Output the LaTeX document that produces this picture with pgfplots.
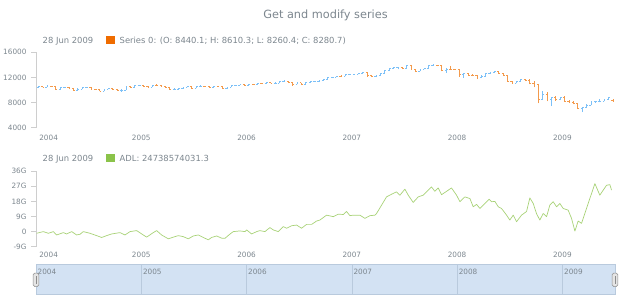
\documentclass[border=0pt]{standalone}
\usepackage{pgfplots}
\pgfplotsset{compat=1.18}
\usepackage{pgfplotstable}
\usepackage{fontspec}
\setmainfont{DejaVu Sans}
\definecolor{txt}{HTML}{7C868E}
\definecolor{axg}{HTML}{CECECE}
\definecolor{upc}{HTML}{64B5F6}
\definecolor{dnc}{HTML}{EF6C00}
\definecolor{dnl}{HTML}{F39A4C}
\definecolor{upl}{HTML}{7CC0F7}
\definecolor{adl}{HTML}{8BC34A}
\definecolor{scr}{HTML}{D3E2F3}
\definecolor{scrl}{HTML}{B9CADD}

\pgfplotstableread{
k o h l c
0 10450 10700 10380 10600
1 10600 10680 10420 10490
2 10490 10720 10440 10630
3 10630 10700 10500 10580
4 10580 10640 10020 10100
5 10100 10420 10010 10360
6 10360 10530 10300 10450
7 10450 10500 10150 10230
8 10230 10280 9900 9970
9 9970 10260 9920 10190
10 10190 10470 10140 10410
11 10410 10520 10350 10440
12 10440 10480 10080 10140
13 10140 10220 10040 10100
14 10100 10150 9780 9830
15 9830 10230 9800 10170
16 10170 10350 10120 10280
17 10280 10330 10020 10080
18 10080 10120 9860 9930
19 9930 10090 9750 10030
20 10030 10600 9990 10550
21 10550 10600 10380 10430
22 10430 10760 10400 10700
23 10700 10860 10650 10780
24 10780 10820 10500 10560
25 10560 10610 10370 10490
26 10490 10860 10440 10800
27 10800 10900 10720 10770
28 10770 10820 10580 10630
29 10630 10680 10440 10500
30 10500 10540 10010 10090
31 10090 10250 10000 10190
32 10190 10310 10130 10250
33 10250 10530 10210 10470
34 10470 10620 10420 10570
35 10570 10610 10220 10270
36 10270 10690 10240 10630
37 10630 10720 10560 10640
38 10640 10700 10490 10550
39 10550 10610 10420 10480
40 10480 10700 10430 10640
41 10640 10690 10510 10570
42 10570 10600 10220 10290
43 10290 10500 10230 10440
44 10440 10750 10400 10690
45 10690 10860 10640 10800
46 10800 10940 10760 10880
47 10880 10930 10680 10720
48 10720 10940 10680 10880
49 10880 10950 10800 10860
50 10860 11110 10820 11050
51 11050 11100 10940 11000
52 11000 11210 10960 11150
53 11150 11200 11050 11110
54 11110 11200 11040 11140
55 11140 11420 11100 11370
56 11370 11640 11320 11420
57 11420 11470 11100 11170
58 11170 11220 10700 10950
59 10950 11210 10900 11150
60 11150 11190 10780 10850
61 10850 11240 10800 11180
62 11180 11390 11130 11330
63 11330 11440 11280 11380
64 11380 11620 11330 11560
65 11560 11740 11510 11680
66 11680 12000 11640 11950
67 11950 12140 11900 12080
68 12080 12300 12030 12250
69 12250 12330 12150 12220
70 12220 12500 12180 12440
71 12440 12540 12390 12460
72 12460 12620 12400 12560
73 12560 12680 12480 12620
74 12620 12800 12570 12770
75 12770 12810 12080 12270
76 12270 12330 12030 12110
77 12110 12420 12060 12350
78 12350 12780 12300 12720
79 12720 13120 12680 13060
80 13060 13540 13010 13480
81 13480 13690 13420 13630
82 13630 13700 13300 13640
83 13640 13690 13340 13410
84 13410 14020 13360 13950
85 13950 14000 13280 13360
86 13360 13420 12850 13000
87 13000 13420 12950 13360
88 13360 13520 13300 13440
89 13440 13960 13400 13900
90 13900 14170 13850 13980
91 13980 14050 13750 13930
92 13930 13990 12980 13100
93 13100 13430 12750 13370
94 13370 13780 13200 13340
95 13340 13420 13150 13260
96 13260 13310 12070 12500
97 12500 12750 11970 12650
98 12650 12780 12250 12380
99 12380 12550 12200 12270
100 12270 12320 11730 11950
101 11950 12380 11900 12260
102 12260 12700 12200 12620
103 12620 12900 12550 12820
104 12820 13100 12770 12990
105 12990 13050 12550 12640
106 12640 12700 12200 12300
107 12300 12350 11300 11350
108 11350 11450 10960 11100
109 11100 11500 11050 11380
110 11380 11800 11300 11660
111 11660 11700 11400 11540
112 11540 11700 10900 11100
113 11100 11400 10400 10850
114 10850 10900 7880 8580
115 8580 9800 8400 9330
116 9330 9650 8200 8500
117 8500 8900 7450 8830
118 8830 9000 8300 8600
119 8600 8950 8400 8780
120 8780 9090 8100 8200
121 8200 8350 7900 8000
122 8000 8200 7700 7850
123 7850 7900 7000 7060
124 7060 7300 6470 7220
125 7220 7800 7100 7610
126 7610 8200 7550 8130
127 8130 8320 7900 8170
128 8170 8500 8050 8270
129 8270 8600 8200 8500
130 8500 8880 8450 8800
131 8440.1 8610.3 8260.4 8280.7
}\ohlc

\pgfplotstableread{
t v
2004.006 -1.0
2004.070 0
2004.117 -1
2004.165 0
2004.196 -2
2004.260 -0.6
2004.291 -1.4
2004.339 0
2004.386 -2
2004.418 -1.6
2004.449 0
2004.513 -1
2004.576 -2.4
2004.624 -3.5
2004.671 -2.4
2004.719 -1.4
2004.798 -0.6
2004.845 -2
2004.893 0
2004.956 0.6
2005.019 -2
2005.051 -3.3
2005.114 -0.6
2005.146 0.6
2005.193 -2
2005.257 -4.3
2005.304 -3.3
2005.352 -2.4
2005.399 -3
2005.447 -4.3
2005.494 -2.6
2005.542 -2
2005.589 -3.5
2005.637 -4.9
2005.668 -3.5
2005.716 -2.6
2005.763 -3.9
2005.795 -4
2005.842 -1.5
2005.874 0
2005.937 0.4
2005.985 0
2006.001 1
2006.048 -1.4
2006.096 0
2006.127 0.6
2006.175 0
2006.222 2.4
2006.254 1
2006.301 0
2006.333 2
2006.349 3
2006.380 2
2006.428 3.5
2006.475 3.9
2006.523 2
2006.570 4.3
2006.618 4.3
2006.665 6.3
2006.697 6.9
2006.760 9.8
2006.824 8.9
2006.871 10.4
2006.919 10.2
2006.950 12
2006.982 9.5
2007.014 9.8
2007.077 9.8
2007.124 7.9
2007.172 9.5
2007.219 9.8
2007.235 10.8
2007.283 15.8
2007.330 20.7
2007.378 22.3
2007.425 23.7
2007.457 21.7
2007.504 25.3
2007.536 21.7
2007.583 17.4
2007.631 20.7
2007.678 21.7
2007.726 24.7
2007.757 26.6
2007.789 24
2007.821 26
2007.852 22
2007.916 24.7
2007.947 26
2007.995 21.7
2008.027 17.8
2008.074 20.7
2008.122 19.7
2008.153 14.8
2008.185 16.2
2008.217 13.8
2008.248 15.8
2008.305 19.3
2008.327 17.8
2008.359 18
2008.391 14.8
2008.422 13.8
2008.470 9.8
2008.501 6.9
2008.533 9.8
2008.565 5.9
2008.612 9.8
2008.660 12
2008.691 20.1
2008.723 16.8
2008.755 10.6
2008.786 6.9
2008.818 10.8
2008.850 8.9
2008.881 15.8
2008.913 17.8
2008.945 14.8
2008.976 16.8
2009.008 13.8
2009.055 12.8
2009.087 7.9
2009.119 0.3
2009.150 6.3
2009.182 4.9
2009.261 19.7
2009.309 28.6
2009.356 21.7
2009.419 27.6
2009.451 28
2009.467 24.74
}\adldata

\pgfplotsset{
  base/.style={
    scale only axis, width=579pt, xmin=2004, xmax=2009.5,
    axis lines*=left,
    x axis line style={draw=none},
    y axis line style={draw=axg, line width=0.6pt},
    xtick style={draw=none},
    ytick style={draw=axg, line width=0.6pt},
    tick align=outside, major tick length=5pt,
    scaled y ticks=false, scaled x ticks=false,
    xtick={2004.12,2005,2006,2007,2008,2009},
    xticklabels={2004,2005,2006,2007,2008,2009},
    tick label style={font=\fontsize{7.3}{8}\selectfont, text=txt},
    yticklabel style={xshift=-1pt},
  },
  qb/.style={forget plot, draw=#1, line width=0.55pt, mark=none, -},
  upsel/.style={restrict expr to domain={\thisrow{c}-\thisrow{o}}{0:100000}},
  dnsel/.style={restrict expr to domain={\thisrow{c}-\thisrow{o}}{-100000:-0.01}},
}

\begin{document}
\begin{tikzpicture}[x=1pt,y=1pt]
\path[use as bounding box] (0,0) rectangle (620,300);

% title
\node[anchor=base, font=\fontsize{11.3}{13}\selectfont, text=txt] at (325.5,281) {Get and modify series};

% top legend
\node[anchor=base west, font=\fontsize{8.4}{10}\selectfont, text=txt, inner sep=0] at (42.5,256) {28 Jun 2009};
\fill[dnc] (106,255.5) rectangle (115,264);
\node[anchor=base west, font=\fontsize{8.4}{10}\selectfont, text=txt, inner sep=0] at (119.5,256) {Series 0: (O: 8440.1; H: 8610.3; L: 8260.4; C: 8280.7)};

\begin{axis}[base, at={(36pt,172.3pt)}, anchor=south west, height=75.4pt,
  ymin=4000, ymax=16000, ytick={4000,8000,12000,16000},
  yticklabels={4000,8000,12000,16000},
  xticklabel style={yshift=1pt}]
% rising bars: high-low stem, open tick (left), close tick (right)
\addplot[qb=upl, upsel, quiver={u=0, v={\thisrow{h}-\thisrow{l}}}]
  table[x expr={2004+(\thisrow{k}+0.5)/24}, y=l] {\ohlc};
\addplot[qb=upl, upsel, quiver={u=-0.014, v=0}]
  table[x expr={2004+(\thisrow{k}+0.5)/24}, y=o] {\ohlc};
\addplot[qb=upl, upsel, quiver={u=0.014, v=0}]
  table[x expr={2004+(\thisrow{k}+0.5)/24}, y=c] {\ohlc};
% falling bars
\addplot[qb=dnl, dnsel, quiver={u=0, v={\thisrow{h}-\thisrow{l}}}]
  table[x expr={2004+(\thisrow{k}+0.5)/24}, y=l] {\ohlc};
\addplot[qb=dnl, dnsel, quiver={u=-0.014, v=0}]
  table[x expr={2004+(\thisrow{k}+0.5)/24}, y=o] {\ohlc};
\addplot[qb=dnl, dnsel, quiver={u=0.014, v=0}]
  table[x expr={2004+(\thisrow{k}+0.5)/24}, y=c] {\ohlc};
\end{axis}

% bottom legend
\node[anchor=base west, font=\fontsize{8.4}{10}\selectfont, text=txt, inner sep=0] at (42.5,138.5) {28 Jun 2009};
\fill[adl] (106,137.5) rectangle (115,145.5);
\node[anchor=base west, font=\fontsize{8.4}{10}\selectfont, text=txt, inner sep=0] at (119.5,138.5) {ADL: 24738574031.3};

\begin{axis}[base, at={(36pt,53.3pt)}, anchor=south west, height=75.5pt,
  ymin=-9, ymax=36, ytick={-9,0,9,18,27,36},
  yticklabels={-9G,0,9G,18G,27G,36G},
  xticklabel style={yshift=3pt}]
\addplot[adl!75, line width=0.7pt, mark=none, line join=round] table[x=t, y=v] {\adldata};
\end{axis}

% scroller
\fill[scr] (36,6) rectangle (615,36);
\draw[scrl, line width=0.4pt] (36,6) rectangle (615,36);
\foreach \xx in {141.3,246.5,351.8,457.1,562.4} \draw[scrl, line width=0.5pt] (\xx,6) -- (\xx,36);
\foreach \xx/\yy in {36.5/2004,141.8/2005,247/2006,352.3/2007,457.6/2008,562.9/2009}
  \node[anchor=base west, font=\fontsize{7.3}{8}\selectfont, text=txt, inner sep=0] at (\xx+1,25.5) {\yy};
\foreach \xx in {36,615} {
  \draw[fill=white!90!black, draw=black!45, line width=0.5pt, rounded corners=1.5pt] (\xx-2.8,13.5) rectangle (\xx+2.8,27);
  \draw[black!45, line width=0.4pt] (\xx,16.5) -- (\xx,24);
}
\end{tikzpicture}
\end{document}
